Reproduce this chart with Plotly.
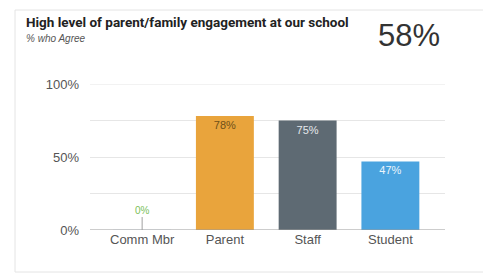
import plotly.graph_objects as go

categories = ["Comm Mbr", "Parent", "Staff", "Student"]
values = [0, 78, 75, 47]
bar_colors = ["#8bc34a", "#E9A43C", "#5E6A73", "#4AA3DF"]
label_colors = ["#7cbf5a", "#6e5019", "#e4e8eb", "#eaf5fc"]
overall = "58%"
title = "High level of parent/family engagement at our school"
subtitle = "% who Agree"
ytick_vals = [0, 50, 100]
ytick_text = ["0%", "50%", "100%"]

W, H = 491, 276
OFF = 8  # page body margin
# plot area in page pixels: x 90..445, y 84..230
L, T = 90 - OFF, 84 - OFF
R, B = W - (445 - OFF), H - (230 - OFF)
pw, ph = W - L - R, H - T - B

def px(x):
    return (x - OFF - L) / pw

def py(y):
    return (H - B - (y - OFF)) / ph

FONT = "Liberation Sans, Arial, sans-serif"

fig = go.Figure()
fig.add_trace(go.Bar(
    x=categories[1:], y=values[1:],
    marker=dict(color=bar_colors[1:], line=dict(width=0)),
    width=0.7,
    text=[f"{v}%" for v in values[1:]],
    textposition="inside", insidetextanchor="end",
    textfont=dict(size=11, color=label_colors[1:], family=FONT),
    hoverinfo="skip",
))
fig.add_trace(go.Bar(x=categories[:1], y=values[:1], width=0.7,
                     marker=dict(color=bar_colors[0]), hoverinfo="skip"))

fig.add_annotation(x=categories[0], y=values[0], xref="x", yref="y",
                   text=f"{values[0]}%", showarrow=True, arrowhead=0,
                   arrowwidth=1, arrowcolor="#a0a0a0", ax=0, ay=-20,
                   font=dict(size=10, color="#7cbf5a", family=FONT))

fig.add_annotation(x=px(24), y=py(22), xref="paper", yref="paper",
                   xanchor="left", yanchor="middle", showarrow=False,
                   text=f"<b>{title}</b>",
                   font=dict(size=13.5, color="#222222", family="Roboto"))
fig.add_annotation(x=px(24), y=py(38), xref="paper", yref="paper",
                   xanchor="left", yanchor="middle", showarrow=False,
                   text=f"<i>{subtitle}</i>",
                   font=dict(size=10, color="#555555", family=FONT))
fig.add_annotation(x=px(442), y=py(35), xref="paper", yref="paper",
                   xanchor="right", yanchor="middle", showarrow=False,
                   text=overall,
                   font=dict(size=31, color="#333333", family=FONT))

fig.add_shape(type="rect", xref="paper", yref="paper",
              x0=px(15), x1=px(485), y0=py(272), y1=py(10),
              line=dict(color="#e4e4e4", width=1), layer="below")

fig.update_layout(
    width=W, height=H,
    margin=dict(l=L, r=R, t=T, b=B),
    paper_bgcolor="white", plot_bgcolor="white",
    showlegend=False,
    xaxis=dict(range=[-0.63, 3.66], showgrid=False, showline=False,
               categoryorder="array", categoryarray=categories,
               ticks="", tickfont=dict(size=13, color="#555555", family=FONT),
               fixedrange=True),
    yaxis=dict(range=[0, 100], tickmode="array", tickvals=ytick_vals,
               ticktext=ytick_text, showgrid=True, gridcolor="#e6e6e6",
               zeroline=False, ticks="", ticklabelstandoff=10,
               minor=dict(tickvals=[25, 75], showgrid=True, gridcolor="#e6e6e6"),
               tickfont=dict(size=13, color="#555555", family=FONT),
               fixedrange=True),
)
fig.add_hline(y=100, line=dict(color="#e6e6e6", width=1), layer="below")
fig.add_hline(y=0, line=dict(color="#9a9a9a", width=1))

fig.write_html("out.html")
